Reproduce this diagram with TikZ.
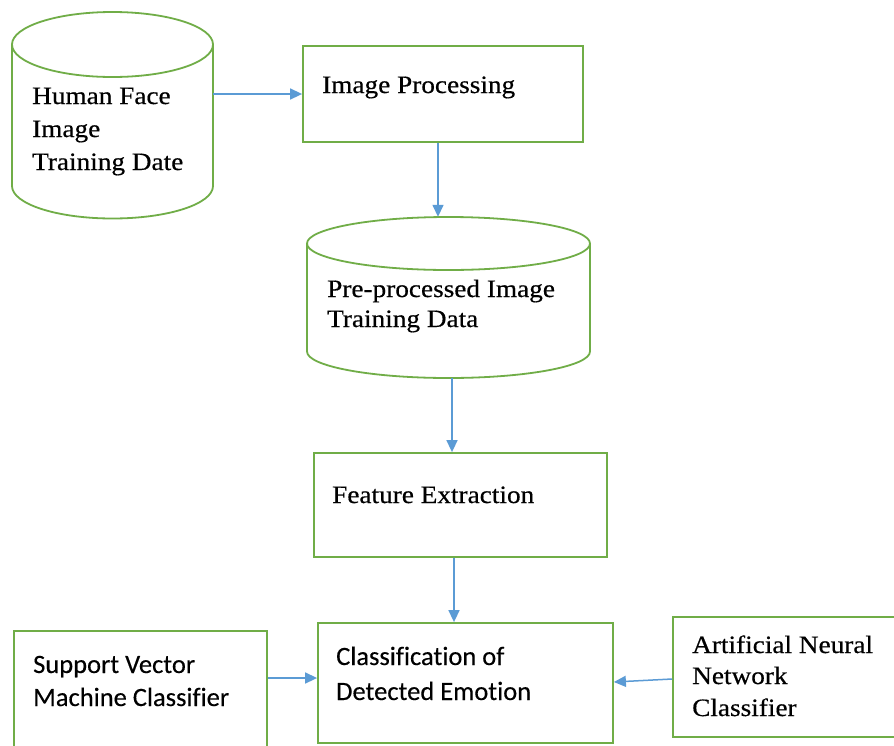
\documentclass[tikz,border=0pt]{standalone}
\usepackage{fontspec}
\usetikzlibrary{arrows.meta}
\newfontfamily\serifface[FakeStretch=1.09, FakeBold=0.5, Ligatures=NoCommon]{Liberation Serif}
\newfontfamily\sansface[FakeBold=0.3, Ligatures=NoCommon]{Carlito}
\definecolor{boxgreen}{HTML}{70AD47}
\definecolor{flowblue}{HTML}{5B9BD5}
\tikzset{
  stage/.style={draw=boxgreen, line width=1.8pt, rectangle, inner sep=0pt},
  dbarea/.style={rectangle, inner sep=0pt},
  dbline/.style={draw=boxgreen, line width=1.8pt},
  arr/.style={draw=flowblue, line width=1.5pt, -{Triangle[length=12pt,width=11pt]}},
  stxt/.style={anchor=base west, inner sep=0pt, font=\serifface\fontsize{25}{30}\selectfont},
  ctxt/.style={anchor=base west, inner sep=0pt, font=\sansface\fontsize{26.5}{32}\selectfont}
}
\begin{document}
\begin{tikzpicture}[x=1pt, y=-1pt]
\useasboundingbox (0,0) rectangle (894,745);
\fill[white] (0,0) rectangle (894,745);

% database: human face images
\node[dbarea, minimum width=201pt, minimum height=206pt] (hface) at (112.5,115) {};
\draw[dbline] (112.5,44.5) ellipse [x radius=100.5, y radius=32.5];
\draw[dbline] (12,44.5) -- (12,186) arc[start angle=180, end angle=0, x radius=100.5, y radius=32.5] -- (213,44.5);

% database: pre-processed images
\node[dbarea, minimum width=283pt, minimum height=161pt] (pre) at (448.5,297.5) {};
\draw[dbline] (448.5,243.5) ellipse [x radius=141.5, y radius=26.5];
\draw[dbline] (307,243.5) -- (307,351.5) arc[start angle=180, end angle=0, x radius=141.5, y radius=26.5] -- (590,243.5);

% processing stages
\node[stage, minimum width=280pt, minimum height=96pt] (improc) at (443,94) {};
\node[stage, minimum width=293pt, minimum height=104pt] (feature) at (460.5,505) {};
\node[stage, minimum width=295pt, minimum height=120pt] (class) at (465.5,683) {};
\node[stage, minimum width=253pt, minimum height=134pt] (svm) at (140.5,698) {};
\node[stage, minimum width=227pt, minimum height=120pt] (ann) at (786.5,677) {};

% labels
\node[stxt] (t1a) at (32,104) {Human Face};
\node[stxt] (t1b) at (32,137) {Image};
\node[stxt] (t1c) at (32,170) {Training Date};
\node[stxt] (t2) at (322,93) {Image Processing};
\node[stxt] (t3a) at (327,297) {Pre-processed Image};
\node[stxt] (t3b) at (327,327) {Training Data};
\node[stxt] (t4) at (332,503) {Feature Extraction};
\node[stxt] (t6a) at (692,653) {Artificial Neural};
\node[stxt] (t6b) at (692,684) {Network};
\node[stxt] (t6c) at (692,716) {Classifier};
\node[ctxt] (t5a) at (33,673) {Support Vector};
\node[ctxt] (t5b) at (33,706) {Machine Classifier};
\node[ctxt] (t7a) at (336,665) {Classification of};
\node[ctxt] (t7b) at (336,700) {Detected Emotion};

% flow
\coordinate (svmin) at ([yshift=5pt]class.west);
\draw[arr] (hface.east |- improc.west) -- (improc.west);
\draw[arr] ([xshift=-5pt]improc.south) -- ([xshift=-10.5pt]pre.north);
\draw[arr] ([xshift=3.5pt]pre.south) -- ([xshift=-8.5pt]feature.north);
\draw[arr] ([xshift=-6.5pt]feature.south) -- ([xshift=-11.5pt]class.north);
\draw[arr] (svm.east |- svmin) -- (svmin);
\draw[arr] ([yshift=-2pt]ann.west) -- ([yshift=1pt]class.east);
\end{tikzpicture}
\end{document}
